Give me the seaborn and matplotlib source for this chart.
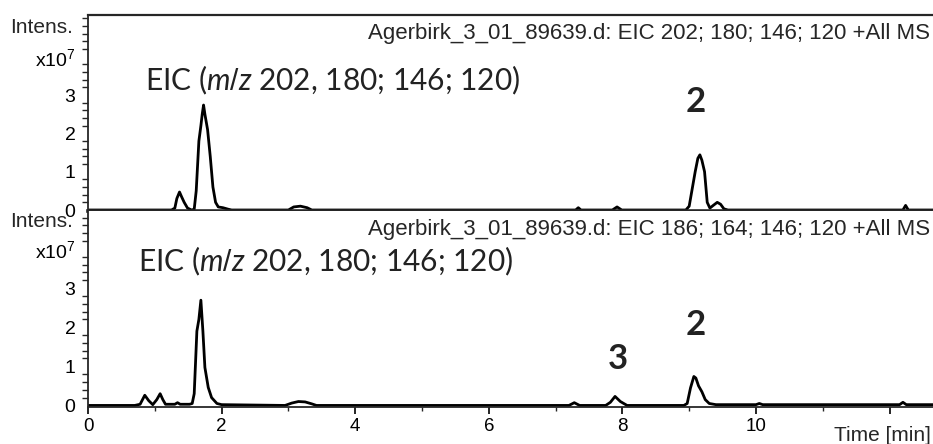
import matplotlib
matplotlib.use("Agg")
import matplotlib.pyplot as plt
import matplotlib.transforms as mtransforms
from matplotlib.ticker import MultipleLocator, FixedLocator, FixedFormatter, NullLocator
import pandas as pd
import seaborn as sns

# ---- chromatogram traces (time in min, intensity in units of 1e7) ----
time_top = [0.0, 1.25, 1.30, 1.33, 1.37, 1.40, 1.44, 1.49, 1.55, 1.59,
            1.62, 1.66, 1.69, 1.71, 1.73, 1.75, 1.79, 1.83, 1.87, 1.91,
            1.95, 2.02, 2.10, 2.15, 3.00, 3.08, 3.18, 3.28, 3.35, 7.30,
            7.34, 7.38, 7.85, 7.92, 7.99, 8.95, 9.00, 9.04, 9.09, 9.13,
            9.16, 9.19, 9.23, 9.27, 9.31, 9.36, 9.42, 9.47, 9.52, 9.58,
            12.20, 12.24, 12.28, 12.65]
intens_top = [0, 0, 0.05, 0.30, 0.47, 0.35, 0.20, 0.05, 0.0, 0.02,
              0.50, 1.80, 2.20, 2.50, 2.74, 2.50, 2.10, 1.40, 0.60, 0.20,
              0.08, 0.06, 0.02, 0, 0, 0.08, 0.10, 0.06, 0, 0,
              0.06, 0, 0, 0.08, 0, 0, 0.10, 0.50, 1.00, 1.35,
              1.44, 1.30, 1.00, 0.20, 0.05, 0.12, 0.20, 0.15, 0.03, 0,
              0, 0.12, 0, 0]

time_bot = [0.0, 0.70, 0.78, 0.85, 0.91, 0.97, 1.03, 1.08, 1.12, 1.16,
            1.30, 1.34, 1.38, 1.52, 1.56, 1.59, 1.63, 1.66, 1.69, 1.72,
            1.75, 1.80, 1.85, 1.93, 2.00, 2.95, 3.05, 3.15, 3.25, 3.35,
            3.42, 7.20, 7.28, 7.36, 7.75, 7.82, 7.89, 7.97, 8.07, 8.92,
            8.97, 9.02, 9.07, 9.10, 9.14, 9.19, 9.24, 9.30, 9.40, 10.00,
            10.05, 10.10, 12.15, 12.20, 12.25, 12.65]
intens_bot = [0, 0, 0.03, 0.26, 0.12, 0.02, 0.15, 0.30, 0.15, 0.03,
              0.03, 0.07, 0.03, 0.03, 0.05, 0.30, 1.90, 2.20, 2.69, 1.90,
              0.97, 0.46, 0.20, 0.05, 0.02, 0.0, 0.06, 0.10, 0.09, 0.04,
              0, 0, 0.07, 0, 0, 0.08, 0.23, 0.10, 0, 0,
              0.05, 0.45, 0.74, 0.70, 0.50, 0.35, 0.15, 0.05, 0.02, 0.02,
              0.05, 0.02, 0.02, 0.08, 0.02, 0.02]

trace_titles = ["Agerbirk_3_01_89639.d: EIC 202; 180; 146; 120 +All MS",
                "Agerbirk_3_01_89639.d: EIC 186; 164; 146; 120 +All MS"]
eic_labels = ["EIC ($m/z$ 202, 180; 146; 120)",
              "EIC ($m/z$ 202, 180; 146; 120)"]
peak_ids_top = ["2"]
peak_rt_top = [9.10]
peak_ids_bot = ["3", "2"]
peak_rt_bot = [7.93, 9.10]

y_ticks = [0, 1, 2, 3, 4]
y_ticklabels = ["0", "1", "2", "3", "x10$^{7}$"]
x_ticks = [0, 2, 4, 6, 8, 10, 12]
x_ticklabels = ["0", "2", "4", "6", "8", "10", ""]

# ---- style ----
sns.set_style("white")
plt.rcParams["font.family"] = ["Liberation Sans", "DejaVu Sans"]
plt.rcParams["mathtext.fontset"] = "custom"
plt.rcParams["mathtext.rm"] = "Liberation Sans"
plt.rcParams["mathtext.it"] = "Lato:italic"

W, H = 933, 444
fig = plt.figure(figsize=(W / 100, H / 100), dpi=100)
fig.patch.set_facecolor("white")

left = 88 / W
width = 1 - left
ax_top = fig.add_axes([left, 1 - 211 / H, width, (211 - 15) / H])
ax_bot = fig.add_axes([left, 1 - 407 / H, width, (407 - 211) / H])

df_top = pd.DataFrame({"time": time_top, "intensity": intens_top})
df_bot = pd.DataFrame({"time": time_bot, "intensity": intens_bot})

sns.lineplot(data=df_top, x="time", y="intensity", ax=ax_top,
             color="black", lw=2.0, estimator=None)
sns.lineplot(data=df_bot, x="time", y="intensity", ax=ax_bot,
             color="black", lw=2.0, estimator=None)

ax_top.set_ylim(-0.026, 5.09)
ax_bot.set_ylim(-0.04, 4.97)

for ax in (ax_top, ax_bot):
    ax.set_xlim(0, 12.65)
    ax.set_xlabel("")
    ax.set_ylabel("")
    ax.set_facecolor("white")
    ax.spines["right"].set_visible(False)
    ax.spines["left"].set_linewidth(1.3)
    ax.yaxis.set_major_locator(FixedLocator(y_ticks))
    ax.yaxis.set_major_formatter(FixedFormatter(y_ticklabels))
    ax.yaxis.set_minor_locator(MultipleLocator(0.2))
    ax.tick_params(axis="y", which="major", direction="out", length=8,
                   width=1.2, pad=1, labelsize=14, colors="black")
    ax.tick_params(axis="y", which="minor", direction="out", length=4.5,
                   width=1.0, left=True)

# top panel: no x ticks, heavy baseline shared with the lower panel
ax_top.xaxis.set_major_locator(NullLocator())
ax_top.xaxis.set_minor_locator(NullLocator())
ax_top.spines["bottom"].set_linewidth(2.6)
ax_top.spines["top"].set_linewidth(1.6)

ax_bot.spines["top"].set_visible(False)
ax_bot.spines["bottom"].set_linewidth(1.3)
ax_bot.xaxis.set_major_locator(FixedLocator(x_ticks))
ax_bot.xaxis.set_major_formatter(FixedFormatter(x_ticklabels))
ax_bot.xaxis.set_minor_locator(MultipleLocator(1))
ax_bot.tick_params(axis="x", which="major", direction="out", length=5,
                   width=1.2, pad=3, labelsize=13.5, colors="black", bottom=True)
ax_bot.tick_params(axis="x", which="minor", direction="out", length=3,
                   width=1.0, bottom=True)

# "Time [min]" sits on the tick-label row at the right
ax_bot.text(12.62, -0.143, "Time [min]", transform=mtransforms.blended_transform_factory(
    ax_bot.transData, ax_bot.transAxes), ha="right", va="center", fontsize=15)

# per-panel annotations
for ax, title, ty, ylab_int in ((ax_top, trace_titles[0], 0.905, 4.77),
                                (ax_bot, trace_titles[1], 0.908, 4.69)):
    ax.text(0.997, ty, title, transform=ax.transAxes,
            ha="right", va="center", fontsize=16)
    trans = mtransforms.blended_transform_factory(ax.transAxes, ax.transData)
    ax.text(-0.018, ylab_int, "Intens.", transform=trans, ha="right",
            va="center", fontsize=15)

ax_top.text(0.85, 3.37, eic_labels[0], fontsize=21.5, family="Lato",
            ha="left", va="center", color="#222222")
ax_bot.text(0.75, 3.69, eic_labels[1], fontsize=21.5, family="Lato",
            ha="left", va="center", color="#222222")

for pid, rt in zip(peak_ids_top, peak_rt_top):
    ax_top.text(rt, 2.83, pid, fontsize=25, family="Lato", weight="bold",
                ha="center", va="center", color="#222222")
for pid, rt, ly in zip(peak_ids_bot, peak_rt_bot, (1.19, 2.06)):
    ax_bot.text(rt, ly, pid, fontsize=25, family="Lato", weight="bold",
                ha="center", va="center", color="#222222")

fig.savefig("out.png", dpi=100, facecolor="white")
